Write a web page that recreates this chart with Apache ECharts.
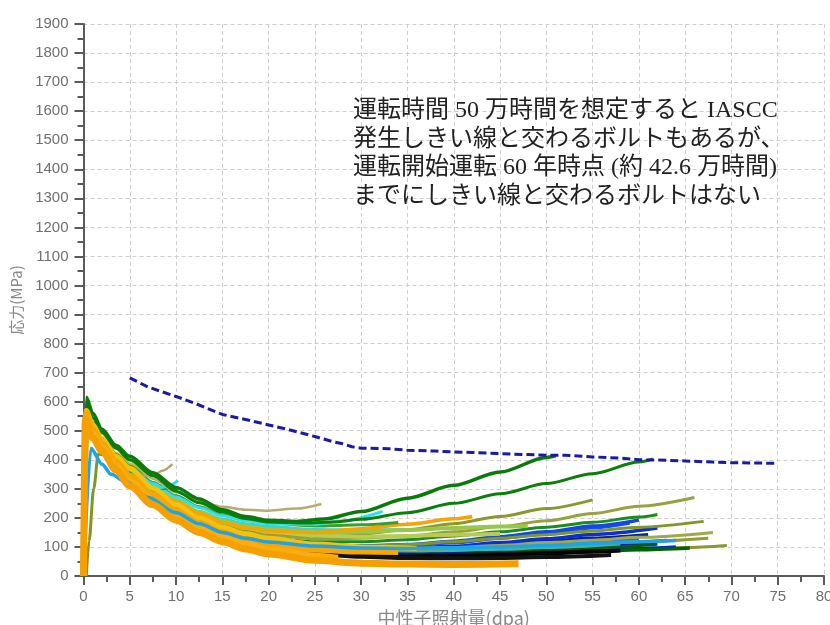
<!DOCTYPE html>
<html>
<head>
<meta charset="utf-8">
<script src="https://cdn.jsdelivr.net/npm/echarts@6/dist/echarts.min.js"></script>
<style>
html,body{margin:0;padding:0;background:#fff;}
#c{width:830px;height:625px;}
</style>
</head>
<body>
<div id="c"></div>
<script>
// ---- data: [dpa, stress MPa] ----
const threshold = [[5,682],[7,650],[10,618],[12,595],[15,556],[18,535],[20,520],[22,505],[25,480],[27,462],[28,455],[29,445],[30,440],[33,438],[35,433],[38,430],[40,427],[42,425],[45,421],[48,418],[50,416],[52,416],[55,410],[58,406],[60,400],[62,399],[65,396],[68,392],[70,390],[72,389],[75,388]];

const bolt01 = [[0,0],[0.3,615],[1,560],[2,505],[3.5,450],[5,412],[7.5,355],[10,305],[12.5,265],[15,228],[17.5,205],[20,192],[23,188],[26,196],[30,222],[35,268],[40,312],[45,358],[50,408],[51,414]];
const bolt02 = [[0,0],[0.3,600],[1,545],[2,495],[3.5,440],[5,400],[7.5,345],[10,292],[12.5,252],[15,220],[17.5,198],[20,186],[24,182],[27,186],[30,195],[35,218],[40,250],[45,283],[50,318],[55,352],[60,392],[61.5,403]];
const bolt03 = [[0,0],[0.4,565],[1,530],[2,490],[3.5,440],[5,398],[7.5,335],[10,288],[12.5,258],[15,238],[17.5,228],[20,225],[23,232],[25.7,248]];
const bolt04 = [[0,0],[0.4,545],[1,510],[2,470],[3.5,415],[5,375],[6.5,345],[7.5,345],[8.5,362],[9.6,385]];
const bolt05 = [[0,0],[0.4,525],[1,495],[2,455],[3.5,405],[5,365],[7,318],[8.3,303],[9.2,310],[10.2,328]];
const bolt06 = [[0,0],[0.4,520],[1,490],[2,450],[3.5,400],[5,360],[7,315],[8.5,300],[10.2,300]];
const bolt07 = [[0,0],[0.4,530],[1,500],[2,460],[3.5,412],[5,372],[7.5,318],[10,272],[12.5,235],[15,207],[17.5,190],[20,180],[25,178],[28,190],[32.3,222]];
const bolt08 = [[0,0],[0.5,540],[1,510],[2,468],[3.5,418],[5,378],[7.5,322],[10,276],[12.5,238],[15,210],[17.5,192],[20,182],[25,172],[30,176],[34,184]];
const bolt09 = [[0,0],[0.4,550],[1,515],[2,470],[3.5,420],[5,385],[7.5,320],[10,262],[12.5,220],[15,190],[17.5,170],[20,160],[25,150],[30,152],[35,158],[40,165],[45,170],[48,172]];
const bolt10 = [[0,0],[0.4,555],[1,520],[2,475],[3.5,420],[5,380],[7.5,312],[10,255],[12.5,215],[15,185],[17.5,165],[20,155],[25,150],[30,163],[35,178],[40,197],[42,205]];
const bolt11 = [[0,0],[0.4,535],[1,500],[2,460],[3.5,405],[5,362],[7.5,298],[10,245],[12.5,205],[15,180],[17.5,160],[20,148],[25,138],[30,145],[35,160],[40,180],[45,205],[50,232],[55,262]];
const bolt12 = [[0,0],[0.4,530],[1,495],[2,455],[3.5,400],[5,355],[7.5,290],[10,240],[12.5,200],[15,172],[17.5,152],[20,140],[25,128],[30,130],[35,138],[40,152],[45,170],[50,190],[55,215],[60,240],[66,270]];
const bolt13 = [[0,0],[0.4,520],[1,488],[2,445],[3.5,390],[5,345],[7.5,280],[10,230],[12.5,192],[15,165],[17.5,145],[20,130],[25,118],[30,118],[35,125],[40,138],[45,152],[50,168],[55,185],[60,203],[62,212]];
const bolt14 = [[0.3,0],[0.6,120],[1.1,300],[1.6,420],[2.5,415],[3.5,385],[5,340],[7.5,275],[10,225],[12.5,185],[15,155],[17.5,132],[20,118],[25,106],[30,102],[35,108],[40,118],[45,130],[50,142],[55,155],[60,168],[67,188]];
const bolt15 = [[0,0],[0.4,548],[1,496],[2,450],[3.5,390],[5,340],[7.5,278],[10,232],[12.5,192],[15,158],[17.5,134],[20,118],[25,102],[30,94],[35,94],[40,98],[45,105],[50,115],[55,123],[60,133],[68,150]];
const bolt16 = [[0,0],[0.4,545],[1,492],[2,446],[3.5,386],[5,336],[7.5,272],[10,222],[12.5,182],[15,150],[17.5,126],[20,110],[25,96],[30,90],[35,90],[40,95],[45,100],[50,106],[55,112],[60,118],[67.5,130]];
const bolt17 = [[0,0],[0.4,540],[1,488],[2,440],[3.5,378],[5,326],[7.5,260],[10,210],[12.5,168],[15,136],[17.5,112],[20,96],[25,80],[30,72],[35,70],[40,72],[45,76],[50,80],[55,86],[60,92],[65,98],[69.5,105]];
const bolt18 = [[0,0],[0.3,560],[1,505],[2,458],[3.5,400],[5,352],[7.5,288],[10,240],[12.5,198],[15,165],[17.5,140],[20,124],[25,110],[30,104],[35,108],[40,120],[45,135],[50,152],[55,172],[60,193]];
const bolt19 = [[0,0],[0.3,555],[1,500],[2,452],[3.5,392],[5,342],[7.5,278],[10,230],[12.5,188],[15,156],[17.5,132],[20,116],[25,102],[30,94],[35,95],[40,102],[45,115],[50,128],[55,143],[62,165]];
const bolt20 = [[0,0],[0.3,552],[1,497],[2,448],[3.5,388],[5,336],[7.5,270],[10,222],[12.5,180],[15,148],[17.5,124],[20,108],[25,92],[30,82],[35,80],[40,85],[45,92],[50,100],[55,108],[63,122]];
const bolt21 = [[0,0],[0.3,548],[1,493],[2,445],[3.5,384],[5,330],[7.5,264],[10,214],[12.5,172],[15,140],[17.5,116],[20,100],[25,85],[30,77],[35,72],[40,72],[45,76],[50,82],[55,88],[60,95],[64,100]];
const bolt22 = [[0,0],[0.3,545],[1,490],[2,442],[3.5,380],[5,326],[7.5,260],[10,208],[12.5,166],[15,134],[17.5,110],[20,94],[25,79],[30,70],[35,67],[40,70],[45,73],[50,78],[55,83],[60,90],[65.5,96]];
const bolt23 = [[0,0],[0.3,542],[1,485],[2,438],[3.5,375],[5,320],[7.5,254],[10,202],[12.5,160],[15,128],[17.5,105],[20,90],[25,75],[30,66],[35,62],[40,61],[45,62],[50,65],[57,72]];
const bolt24 = [[0,0],[0.3,546],[1,492],[2,444],[3.5,382],[5,330],[7.5,264],[10,213],[12.5,172],[15,140],[17.5,117],[20,102],[25,88],[30,79],[35,75],[40,74],[45,76],[50,81],[55,86]];
const bolt25 = [[0,0],[0.8,440],[2,385],[3,350],[4.5,325],[7,270],[10,218],[12.5,180],[15,150],[17.5,130],[20,117],[25,103],[30,96],[35,95],[40,97],[45,100],[50,105],[55,112],[60,118],[64,122]];
const bolt26 = [[0,0],[0.3,550],[1,496],[2,448],[3.5,388],[5,336],[7.5,270],[10,220],[12.5,178],[15,146],[17.5,122],[20,106],[25,94],[30,87],[35,86],[40,88],[45,92],[50,98],[58,110]];
const bolt27 = [[0,0],[0.4,525],[1,495],[2,455],[3.5,405],[5,365],[7.5,305],[10,258],[12.5,222],[15,196],[17.5,180],[20,170],[25,160],[30,158],[35,160],[38,162]];
const bolt28 = [[0,0],[0.4,540],[1,505],[2,462],[3.5,410],[5,372],[7.5,308],[10,255],[12.5,215],[15,185],[17.5,165],[20,152],[25,140],[30,135],[35,138],[40,142],[45,145]];
const bolt29 = [[0,0],[0.3,570],[1,520],[2,470],[3.5,412],[5,370],[7.5,302],[10,245],[12.5,200],[15,168],[17.5,145],[20,130],[25,110],[30,100],[36,95]];
const bolt30 = [[0,0],[0.3,560],[1,505],[2,455],[3.5,395],[5,345],[7.5,280],[10,225],[12.5,182],[15,150],[17.5,126],[20,108],[25,90],[30,84],[34,83]];
const bolt31 = [[0,0],[0.2,540],[1,475],[2,430],[3.5,365],[5,310],[7.5,245],[10,192],[12.5,150],[15,118],[17.5,93],[20,76],[25,54],[30,44],[35,41],[40,40],[47,42]];
const bolt32 = [[0,0],[0.3,550],[1,490],[2,442],[3.5,380],[5,328],[7.5,262],[10,208],[12.5,166],[15,134],[17.5,110],[20,92],[25,70],[27.5,63]];
const bolt33 = [[0,0],[0.3,556],[1,502],[2,454],[3.5,395],[5,346],[7.5,282],[10,234],[12.5,192],[15,160],[17.5,136],[20,120],[25,106],[30,100],[35,104],[40,115],[45,130],[50,148],[55,166],[59,182]];
const bolt34 = [[0,0],[0.3,553],[1,498],[2,450],[3.5,390],[5,340],[7.5,274],[10,226],[12.5,184],[15,152],[17.5,128],[20,112],[25,98],[30,92],[35,94],[40,100],[45,110],[50,120],[55,130],[61,142]];
const bolt35 = [[0,0],[0.3,550],[1,495],[2,447],[3.5,386],[5,334],[7.5,268],[10,218],[12.5,176],[15,144],[17.5,120],[20,104],[25,92],[30,86],[35,86],[40,90],[45,98],[50,108],[55,118],[60,128]];
const bolt36 = [[0,0],[0.3,547],[1,491],[2,443],[3.5,382],[5,329],[7.5,262],[10,212],[12.5,170],[15,138],[17.5,114],[20,98],[25,86],[30,80],[35,78],[40,80],[45,86],[50,92],[55,98],[62,110]];
const bolt37 = [[0,0],[0.3,544],[1,488],[2,440],[3.5,378],[5,324],[7.5,258],[10,206],[12.5,164],[15,132],[17.5,110],[20,96],[25,82],[30,72],[35,68],[40,68],[45,72],[50,78],[55,84],[58,88]];

const annotationLines = [
  '運転時間 50 万時間を想定すると IASCC',
  '発生しきい線と交わるボルトもあるが、',
  '運転開始運転 60 年時点 (約 42.6 万時間)',
  'までにしきい線と交わるボルトはない'
];
const xName = '中性子照射量(dpa)';
const yName = '応力(MPa)';

// ---- draw order and styles ----
const bolts = [bolt17,bolt21,bolt22,bolt36,bolt35,bolt24,bolt37,bolt23,bolt20,bolt26,bolt34,bolt19,bolt33,bolt18,bolt16,bolt15,bolt14,bolt13,bolt12,bolt11,bolt28,bolt27,bolt09,bolt10,bolt08,bolt07,bolt06,bolt05,bolt04,bolt03,bolt02,bolt01,bolt29,bolt30,bolt32,bolt25,bolt31];
const boltColors = ['#8a9830','#0028e0','#006400','#0e5a0e','#2a70e0','#1a1a1a','#050505','#111111','#00208c','#3cb7a4','#102090','#0a30d0','#1a50f0','#1448e6','#909c38','#a0a848','#7f9628','#1c8c1c','#98a040','#8a9a2a','#b8cc50','#40d0c8','#9cc64a','#f6a400','#3c9e2c','#30e0e8','#2a9a2a','#25e0e6','#b3a46c','#b9aa72','#0a7f0a','#0b7a0b','#f4c20d','#f7a500','#f9ad10','#1fa3e8','#f5a000'];
const boltWidths = [3,3.5,3.5,3.5,3.5,4,4,4,3.5,3,3.5,3.5,3.5,3.5,3,3,3,3,3,3,4,3,4,3.5,3,3,2.5,3,2.5,2.5,3,3.5,5,6,6,3.5,7];

const chart = echarts.init(document.getElementById('c'), null, {renderer:'canvas'});

const series = bolts.map((d,i)=>({
  type:'line', data:d, symbol:'none', showSymbol:false, smooth:0.3, smoothMonotone:'x',
  silent:true, animation:false,
  lineStyle:{color:boltColors[i], width:boltWidths[i]}
}));
series.push({
  type:'line', data:threshold, symbol:'none', showSymbol:false, silent:true, animation:false,
  lineStyle:{color:'#1a1aa8', width:3, type:[8,4]}, z:5
});

const axisColor = '#5a5a5a';
const labelColor = '#707070';

chart.setOption({
  animation:false,
  backgroundColor:'#ffffff',
  grid:{left:83.5, right:6, top:24, bottom:49, containLabel:false, outerBoundsMode:'none'},
  xAxis:{
    type:'value', min:0, max:80, interval:5,
    name:xName, nameLocation:'middle', nameGap:33,
    nameTextStyle:{color:'#888', fontSize:18, fontFamily:'"Noto Sans CJK JP", sans-serif'},
    axisLine:{show:true, onZero:false, lineStyle:{color:axisColor, width:2}},
    axisTick:{show:true, length:9, lineStyle:{color:axisColor, width:2}},
    minorTick:{show:true, splitNumber:2, length:6, lineStyle:{color:axisColor, width:2}},
    axisLabel:{color:labelColor, fontSize:15, margin:13, fontFamily:'"Liberation Sans", Arial, sans-serif', formatter:v=>String(v)},
    splitLine:{show:true, lineStyle:{color:'#cfcfcf', type:[4,3], width:1}}
  },
  yAxis:{
    type:'value', min:0, max:1900, interval:100,
    name:yName, nameLocation:'middle', nameGap:50,
    nameTextStyle:{color:'#888', fontSize:15, fontFamily:'"Noto Sans CJK JP", sans-serif'},
    axisLine:{show:true, onZero:false, lineStyle:{color:axisColor, width:2}},
    axisTick:{show:true, length:9, lineStyle:{color:axisColor, width:2}},
    minorTick:{show:true, splitNumber:2, length:6, lineStyle:{color:axisColor, width:2}},
    axisLabel:{color:labelColor, fontSize:15, margin:15, fontFamily:'"Liberation Sans", Arial, sans-serif', formatter:v=>String(v)},
    splitLine:{show:true, lineStyle:{color:'#cfcfcf', type:[4,3], width:1}}
  },
  graphic: annotationLines.map((t,i)=>({
    type:'text', left:353, top:99 + i*28.5, silent:true, z:10,
    style:{text:t, fill:'#222', font:'24px "Liberation Serif", "Noto Sans CJK JP", serif'}
  })),
  series:series
});
</script>
</body>
</html>
